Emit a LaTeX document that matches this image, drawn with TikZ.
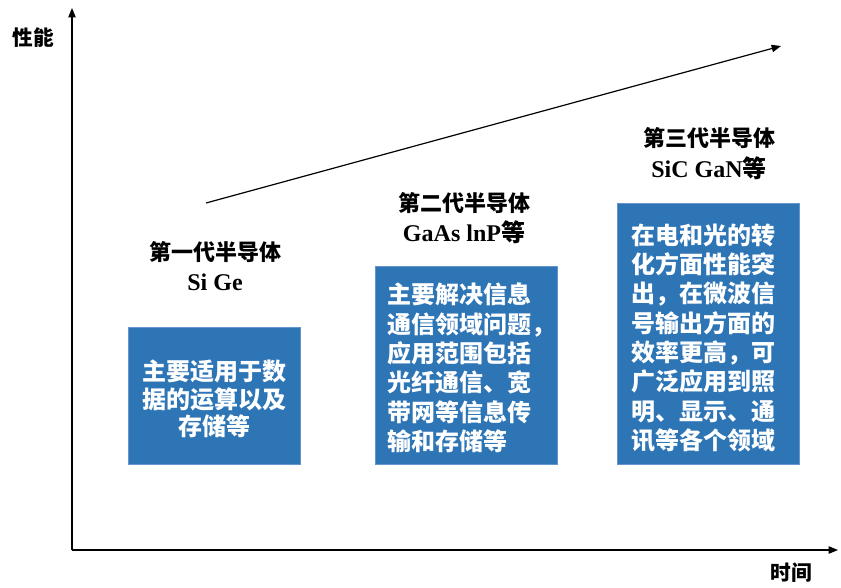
\documentclass[tikz,border=0pt]{standalone}
\usepackage{fontspec}
\setmainfont{Liberation Serif}
\newfontfamily\cjk{Noto Sans CJK SC}
\usetikzlibrary{arrows.meta}
\definecolor{boxblue}{RGB}{46,117,182}
\definecolor{boxedge}{RGB}{100,150,205}
\tikzset{
  axisline/.style={line width=0.9pt, -{Triangle[length=7pt,width=5.5pt]}},
  bluebox/.style={fill=boxblue, draw=boxedge, line width=0.6pt},
  boxtext/.style={text=white, font=\cjk\bfseries\fontsize{18}{20.8}\selectfont, inner sep=0pt},
  gentitle/.style={font=\cjk\bfseries\fontsize{16.5}{20}\selectfont, inner sep=0pt},
  mattitle/.style={font=\bfseries\fontsize{18}{20}\selectfont, inner sep=0pt},
  axislabel/.style={font=\cjk\bfseries\fontsize{15.5}{18}\selectfont, inner sep=0pt}
}
\begin{document}
\begin{tikzpicture}[x=0.75pt,y=-0.75pt]
\useasboundingbox (0,0) rectangle (841,587);
% axes
\coordinate (O) at (72,550);
\coordinate (ytop) at (72,8);
\coordinate (xend) at (838,550);
\draw[axisline] (O) -- (ytop);
\draw[axisline] (O) -- (xend);
\node[axislabel] (ylab) at (33,38) {性能};
\node[axislabel] (xlab) at (791,573) {时间};
% trend arrow
\coordinate (trendA) at (206,203);
\coordinate (trendB) at (781,46);
\draw[line width=0.9pt, -{Triangle[length=7pt,width=5.5pt]}] (trendA) -- (trendB);
% generation 1
\node[gentitle] (t1) at (215,252) {第一代半导体};
\node[mattitle] (m1) at (215,282) {Si Ge};
\path[bluebox] (128,327) rectangle (300,464);
\node[boxtext, align=center] (b1) at (214,399) {主要适用于数\\据的运算以及\\存储等};
% generation 2
\node[gentitle] (t2) at (464,203) {第二代半导体};
\node[mattitle] (m2) at (464,232) {GaAs lnP{\cjk 等}};
\path[bluebox] (375,266) rectangle (557,464);
\node[boxtext, align=left, anchor=west, font=\cjk\bfseries\fontsize{18}{22}\selectfont] (b2) at (387,368) {主要解决信息\\通信领域问题，\\应用范围包括\\光纤通信、宽\\带网等信息传\\输和存储等};
% generation 3
\node[gentitle] (t3) at (709,138) {第三代半导体};
\node[mattitle] (m3) at (709,168) {SiC GaN{\cjk 等}};
\path[bluebox] (617,203) rectangle (799,464);
\node[boxtext, align=left, anchor=west, font=\cjk\bfseries\fontsize{18}{22}\selectfont] (b3) at (631,338) {在电和光的转\\化方面性能突\\出，在微波信\\号输出方面的\\效率更高，可\\广泛应用到照\\明、显示、通\\讯等各个领域};
\end{tikzpicture}
\end{document}
